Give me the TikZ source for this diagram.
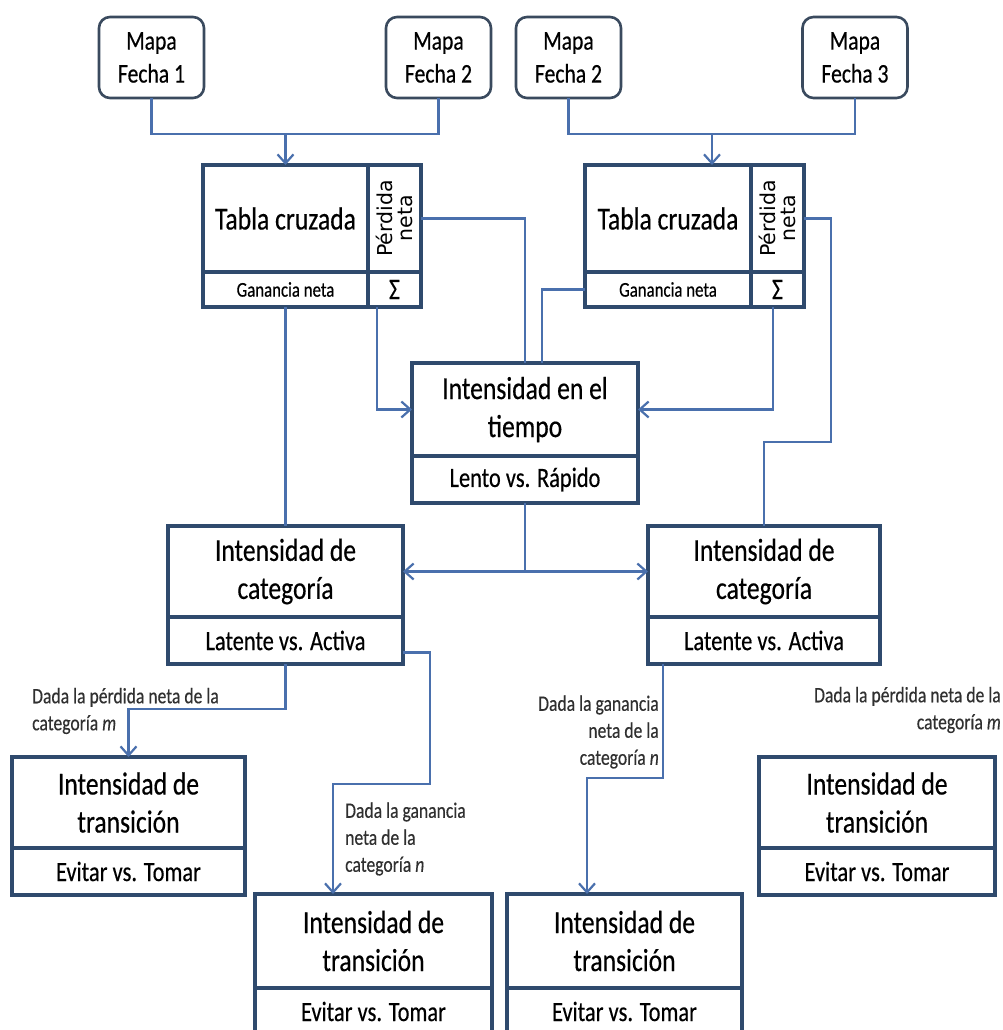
\documentclass[tikz,border=0pt]{standalone}
\usepackage{fontspec}
\setmainfont{Carlito}[FakeStretch=0.8,FakeBold=0.4]
\newfontfamily\pnfont{DejaVu Sans}
\usetikzlibrary{arrows.meta}
\definecolor{boxc}{HTML}{2F4A6D}
\definecolor{connc}{HTML}{4A70AD}
\definecolor{mapc}{HTML}{3A4A5E}
\definecolor{labc}{HTML}{303030}
\tikzset{
 cell/.style={draw=boxc, line width=3.8pt, fill=white, inner sep=0pt, outer sep=0pt, align=center, text=black},
 mapbox/.style={draw=mapc, line width=2.6pt, rounded corners=11pt, fill=white, minimum width=105pt, minimum height=81pt, inner sep=0pt, outer sep=0pt, align=center, font=\fontsize{27}{33}\selectfont},
 bigtxt/.style={font=\fontsize{32}{38}\selectfont},
 midtxt/.style={font=\fontsize{28}{32}\selectfont},
 conn/.style={draw=connc, line width=2.2pt},
 arr/.style={conn, -{Straight Barb[length=9pt,width=16pt]}},
 lab/.style={font=\fontsize{22}{27}\selectfont, text=labc, inner sep=0pt},
 pntxt/.style={rotate=90, align=center, font=\pnfont\fontsize{20.5}{20}\selectfont, inner sep=0pt},
}
\begin{document}
\begin{tikzpicture}[x=1pt,y=-1pt]
\fill[white] (0,0) rectangle (1003,1030);
\useasboundingbox (0,0) rectangle (1003,1030);

% top map boxes
\node[mapbox] (m1) at (151.5,57.5) {Mapa\\Fecha 1};
\node[mapbox] (m2) at (438.5,57.5) {Mapa\\Fecha 2};
\node[mapbox] (m3) at (568.5,57.5) {Mapa\\Fecha 2};
\node[mapbox] (m4) at (855,57.5) {Mapa\\Fecha 3};

% left cross table
\node[cell, bigtxt, minimum width=165pt, minimum height=107pt] (tabLT) at (285.5,218.5) {Tabla cruzada};
\node[cell, minimum width=53pt, minimum height=107pt] (pnL) at (394.5,218.5) {};
\node[pntxt] (pnLt) at (pnL) {Pérdida\\neta};
\node[cell, font=\fontsize{21}{24}\selectfont, minimum width=165pt, minimum height=35pt] (gnL) at (285.5,289.5) {Ganancia neta};
\node[cell, font=\fontsize{30}{30}\selectfont, minimum width=53pt, minimum height=35pt] (sgL) at (394.5,289.5) {Σ};

% right cross table
\node[cell, bigtxt, minimum width=166pt, minimum height=107pt] (tabRT) at (668,218.5) {Tabla cruzada};
\node[cell, minimum width=53pt, minimum height=107pt] (pnR) at (777.5,218.5) {};
\node[pntxt] (pnRt) at (pnR) {Pérdida\\neta};
\node[cell, font=\fontsize{21}{24}\selectfont, minimum width=166pt, minimum height=35pt] (gnR) at (668,289.5) {Ganancia neta};
\node[cell, font=\fontsize{30}{30}\selectfont, minimum width=53pt, minimum height=35pt] (sgR) at (777.5,289.5) {Σ};

% time intensity
\node[cell, bigtxt, minimum width=226pt, minimum height=93pt] (tiT) at (525,409.5) {Intensidad en el\\tiempo};
\node[cell, midtxt, minimum width=226pt, minimum height=47pt] (tiB) at (525,479.5) {Lento vs. Rápido};

% category intensity
\node[cell, bigtxt, minimum width=235pt, minimum height=91pt] (cLT) at (285.5,571.5) {Intensidad de\\categoría};
\node[cell, midtxt, minimum width=235pt, minimum height=47pt] (cLB) at (285.5,640.5) {Latente vs. Activa};
\node[cell, bigtxt, minimum width=232pt, minimum height=91pt] (cRT) at (764,571.5) {Intensidad de\\categoría};
\node[cell, midtxt, minimum width=232pt, minimum height=47pt] (cRB) at (764,640.5) {Latente vs. Activa};

% transition intensity
\node[cell, bigtxt, minimum width=233pt, minimum height=91pt] (tLT) at (128.5,802.5) {Intensidad de\\transición};
\node[cell, midtxt, minimum width=233pt, minimum height=47pt] (tLB) at (128.5,871.5) {Evitar vs. Tomar};
\node[cell, bigtxt, minimum width=236pt, minimum height=91pt] (tRT) at (877,802.5) {Intensidad de\\transición};
\node[cell, midtxt, minimum width=236pt, minimum height=47pt] (tRB) at (877,871.5) {Evitar vs. Tomar};
\node[cell, bigtxt, minimum width=237pt, minimum height=94pt] (b1T) at (373.5,941) {Intensidad de\\transición};
\node[cell, midtxt, minimum width=237pt, minimum height=47pt] (b1B) at (373.5,1011.5) {Evitar vs. Tomar};
\node[cell, bigtxt, minimum width=235pt, minimum height=94pt] (b2T) at (624.5,941) {Intensidad de\\transición};
\node[cell, midtxt, minimum width=235pt, minimum height=47pt] (b2B) at (624.5,1011.5) {Evitar vs. Tomar};

% labels
\node[lab, anchor=west, align=left] (l1) at (32,711) {Dada la pérdida neta de la\\categoría \textit{m}};
\node[lab, anchor=west, align=left] (l2) at (345,839) {Dada la ganancia\\neta de la\\categoría \textit{n}};
\node[lab, anchor=east, align=right] (l3) at (659,732) {Dada la ganancia\\neta de la\\categoría \textit{n}};
\node[lab, anchor=east, align=right] (l4) at (1001,710) {Dada la pérdida neta de la\\categoría \textit{m}};

% connectors
\coordinate (jL) at (285.5,134);
\coordinate (jR) at (712,134);
\draw[conn] (m1.south) -- ++(0,36) -| (m2.south);
\draw[arr] (jL) -- (tabLT.north);
\draw[conn] (m3.south) -- ++(0,36) -| (m4.south);
\draw[arr] (jR) -- (jR |- tabRT.north);

\draw[conn] (pnL.east) -| (tiT.north);
\draw[conn] (gnR.west) -| ([xshift=17pt]tiT.north);
\draw[arr] ([xshift=-17.5pt]sgL.south) |- (tiT.west);
\draw[conn] (gnL.south) -- (cLT.north);
\draw[arr] ([xshift=-4.5pt]sgR.south) |- (tiT.east);
\draw[conn] (pnR.east) -| (831,442) -| (cRT.north);

\draw[arr] (tiB.south) |- (cLT.east);
\draw[arr] (tiB.south) |- (cRT.west);

\draw[arr] (cLB.south) -- ++(0,45) -| (tLT.north);
\draw[arr] ([yshift=-12pt]cLB.east) -| (430,784) -| ([xshift=-40.5pt]b1T.north);
\draw[arr] ([xshift=-101pt]cRB.south) -- ++(0,114) -| ([xshift=-37.5pt]b2T.north);
\end{tikzpicture}
\end{document}
